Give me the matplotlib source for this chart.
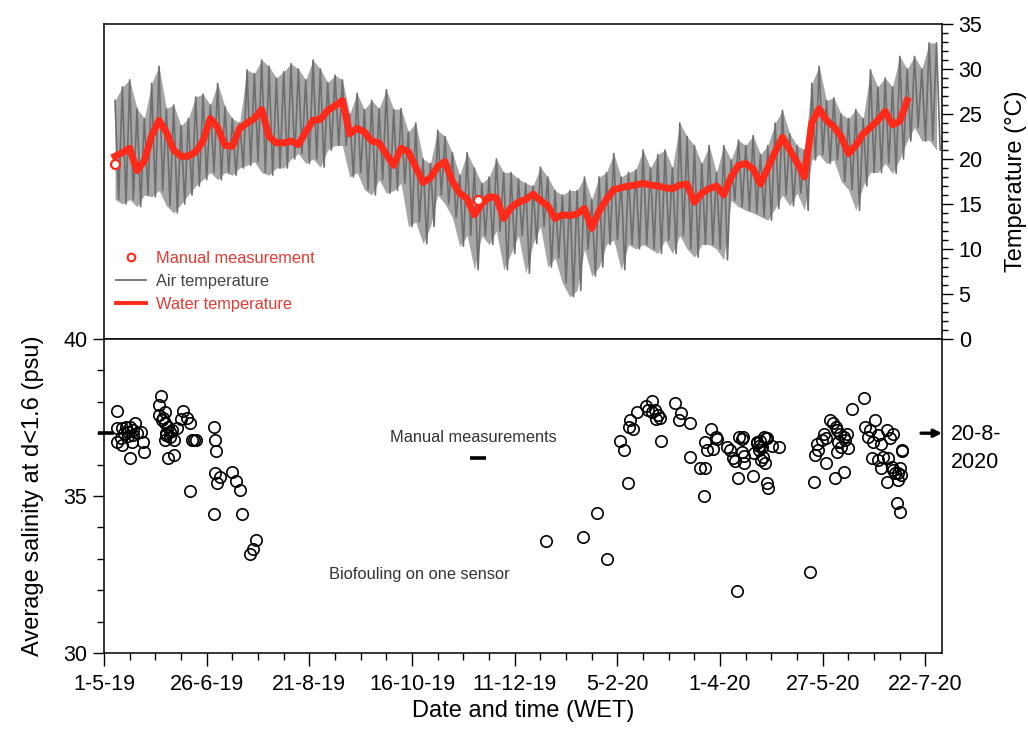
import numpy as np
import pandas as pd
import matplotlib
matplotlib.use('Agg')
import matplotlib.pyplot as plt
import matplotlib.dates as mdates
from matplotlib.ticker import MultipleLocator, FixedLocator
from matplotlib.lines import Line2D

plt.rcParams['font.family'] = ['Liberation Sans', 'DejaVu Sans']

# ---------------- data ----------------
START = pd.Timestamp('2019-05-01')
X_END = pd.Timestamp('2020-07-31')

# Air temperature: envelope read every 4 days (daily max / min)
air_first_day = 6
air_step_days = 4
air_hi = [26.5, 28.0, 28.8, 25.6, 24.5, 28.4, 30.3, 25.6, 26.0, 23.7,
          24.5, 26.9, 27.2, 26.0, 28.4, 25.8, 24.5, 24.0, 29.9, 29.5,
          31.0, 30.3, 29.0, 29.7, 30.6, 30.0, 28.8, 31.0, 30.0, 28.5,
          29.3, 28.8, 25.0, 27.3, 25.5, 26.5, 25.6, 27.7, 25.5, 25.6,
          23.0, 24.0, 20.0, 19.5, 23.2, 22.5, 20.7, 18.2, 20.7, 19.0,
          17.3, 18.0, 20.0, 18.5, 18.5, 17.8, 17.3, 17.0, 19.1, 18.0,
          16.5, 16.0, 16.5, 16.5, 18.0, 15.5, 18.0, 18.5, 20.6, 18.0,
          18.5, 18.8, 21.0, 19.0, 20.5, 21.0, 19.0, 24.0, 22.5, 21.5,
          19.5, 21.5, 18.5, 21.5, 19.9, 22.1, 21.5, 22.6, 20.5, 21.5,
          24.0, 25.4, 22.8, 21.5, 21.0, 28.4, 30.3, 26.5, 26.8, 25.0,
          24.5, 25.5, 24.5, 29.9, 28.0, 29.0, 28.0, 31.4, 30.0, 31.4,
          30.0, 32.9, 32.9]
air_lo = [15.5, 15.0, 15.5, 14.7, 16.0, 15.8, 16.5, 14.8, 14.0, 15.0,
          16.0, 17.0, 17.7, 18.5, 17.7, 18.5, 18.2, 19.0, 19.3, 19.7,
          18.5, 18.2, 19.0, 19.0, 20.0, 20.6, 19.5, 20.0, 19.1, 21.0,
          21.5, 21.5, 18.0, 18.5, 16.6, 16.0, 17.7, 16.2, 16.5, 17.3,
          12.5, 13.0, 10.6, 12.5, 16.0, 15.0, 13.5, 10.3, 11.5, 7.7,
          11.5, 10.5, 12.0, 7.7, 9.5, 11.5, 7.3, 10.6, 12.5, 8.0,
          9.0, 6.2, 4.7, 5.4, 10.0, 7.0, 8.0, 10.5, 11.0, 7.7,
          10.5, 10.0, 10.5, 10.0, 9.5, 11.0, 9.5, 11.5, 10.0, 9.1,
          10.5, 10.5, 10.0, 8.8, 15.4, 14.7, 14.3, 14.0, 13.6, 13.2,
          14.5, 16.0, 14.8, 16.2, 14.3, 19.9, 20.5, 19.5, 19.9, 17.5,
          16.6, 14.3, 17.0, 18.5, 18.5, 19.5, 18.4, 20.0, 22.0, 23.5,
          22.0, 22.1, 21.0]

# Water temperature read every 4 days
water_first_day = 6
water_step_days = 4
water_temp = [20.3, 20.7, 21.2, 18.7, 19.8, 22.6, 24.3, 23.0, 21.0, 20.3,
              20.3, 20.8, 22.0, 24.5, 23.5, 21.5, 21.4, 23.4, 24.0, 24.5,
              25.5, 22.5, 21.8, 21.8, 22.0, 21.6, 23.0, 24.3, 24.4, 25.4,
              25.9, 26.5, 22.8, 23.4, 23.0, 22.0, 21.8, 20.5, 19.3, 21.2,
              20.8, 19.1, 17.4, 17.9, 19.2, 19.7, 17.5, 16.2, 15.6, 13.8,
              15.0, 15.8, 15.7, 13.4, 14.6, 15.2, 15.5, 16.1, 15.4, 14.8,
              13.4, 13.8, 13.7, 13.9, 14.5, 12.3, 14.2, 15.5, 16.6, 16.8,
              17.0, 17.1, 17.3, 17.1, 17.0, 16.8, 16.7, 17.1, 17.2, 15.2,
              16.2, 16.7, 17.0, 16.0, 18.0, 19.3, 19.5, 18.9, 17.2, 19.0,
              20.8, 22.4, 21.0, 19.6, 18.0, 24.0, 25.6, 24.3, 23.6, 22.5,
              20.6, 21.5, 22.8, 23.5, 24.3, 25.3, 23.8, 24.2, 26.5]

# Manual measurements
manual_temp_day = [6, 204]
manual_temp = [19.4, 15.4]
manual_sal_day = [1, 204]
manual_sal = [37.0, 36.2]

# Average salinity (days since 1-5-19, psu)
sal_day = [7, 7, 10, 12, 14, 17, 16, 13, 20, 7, 10, 15, 21, 22, 14, 11, 13, 16, 18, 9,
           31, 30, 33, 30, 31.5, 33, 35, 37, 34, 36, 33, 38, 40, 35, 38, 32, 36, 34,
           43, 42, 45, 47, 47, 48, 49, 50,
           60, 60.5, 61, 60.5, 63, 61.5, 60, 70, 72, 74, 75, 83, 81.5, 79.5,
           241, 261, 269, 274.3, 286, 281.6, 283.4, 286.5, 288.3, 287, 290.7, 295.6,
           298.7, 296.5, 299, 300.5, 302, 301, 303, 303.8, 311.5, 314.8, 313.8, 319.8, 319.8,
           324.8, 327.9, 327, 331, 327.5, 329, 332, 333.9, 334.1, 340, 341.5, 343, 344.3,
           346, 345.4, 346.5, 348, 349, 348.4, 348, 349, 354, 354.4, 356.2, 358, 360.8,
           361.7, 359.6, 360.3, 361.7, 362, 364.5, 368.2, 357.2, 356, 357, 359, 360, 358.5,
           385.2, 387.2, 388, 389.5, 389, 391.5, 392.5, 393.5, 394, 396, 397.5, 399, 400,
           401.5, 403.5, 405, 400.5, 402, 399.5, 406, 404, 398.4, 403.6, 407.7, 414.6,
           415, 417.7, 420.4, 416.8, 419.5, 422.2, 424, 426.8, 428.6, 430.4, 418.6, 422.2,
           425, 424, 427.7, 429.5, 431.3, 433.2, 434, 435, 435.3, 434.6, 426.8, 433.2,
           430.4, 432.2, 434]
sal_psu = [37.72, 37.18, 37.18, 37.20, 37.21, 37.32, 37.10, 37.05, 37.05, 36.73, 36.62,
           36.73, 36.73, 36.41, 36.20, 37.00, 36.90, 36.94, 37.00, 36.85,
           38.18, 37.90, 37.69, 37.58, 37.42, 37.31, 37.21, 37.10, 37.00, 36.89, 36.78,
           36.78, 37.16, 36.20, 36.30, 37.50, 37.05, 36.95,
           37.72, 37.44, 37.48, 37.31, 35.16, 36.78, 36.78, 36.78,
           37.20, 36.77, 36.42, 35.73, 35.62, 35.41, 34.44, 35.78, 35.49, 35.20, 34.44,
           33.61, 33.30, 33.14,
           33.58, 33.70, 34.47, 32.98, 35.40, 36.76, 36.46, 37.21, 37.12, 37.42, 37.68,
           37.86, 38.03, 37.74, 37.68, 37.74, 37.58, 37.44, 37.47, 36.76, 37.95, 37.63,
           37.42, 37.34, 36.24,
           35.88, 35.88, 35.00, 37.12, 36.73, 36.46, 36.51, 36.89, 36.83, 36.57, 36.48,
           36.21, 36.10, 35.57, 31.98, 36.89, 36.83, 36.26, 36.89, 36.41, 36.04, 35.65,
           36.37, 36.69, 36.75, 36.86, 36.86, 36.23, 36.05, 35.41, 35.27, 36.59, 36.55,
           36.59, 36.73, 36.46, 36.57, 36.89, 36.14,
           32.59, 35.46, 36.30, 36.46, 36.67, 36.78, 36.99, 36.84, 36.04, 37.42, 37.31,
           37.21, 37.10, 36.99, 36.89, 36.99, 36.73, 36.57, 36.41, 36.52, 36.78, 35.57,
           35.78, 37.76, 38.11,
           37.21, 37.10, 37.42, 36.89, 36.73, 36.94, 36.67, 37.10, 36.84, 36.99, 36.20,
           36.14, 36.25, 35.88, 36.20, 35.93, 35.72, 35.72, 35.88, 36.46, 36.44, 35.67,
           35.46, 35.51, 35.83, 34.77, 34.48]

tick_step_days = 56
tick_labels = ['1-5-19', '26-6-19', '21-8-19', '16-10-19', '11-12-19',
               '5-2-20', '1-4-20', '27-5-20', '22-7-20']

legend_labels = ['Manual measurement', 'Air temperature', 'Water temperature']
arrow_date_text = '20-8-\n2020'

# ---------------- helpers ----------------
def dn(days):
    return mdates.date2num(START + pd.to_timedelta(np.asarray(days, dtype=float), unit='D'))

RED = '#ff2a1a'
TXT_RED = '#e23c35'
GRAY = '#6e6e6e'

fig = plt.figure(figsize=(10.28, 7.35), dpi=100)
L, R = 104 / 1028, 942 / 1028
ax1 = fig.add_axes([L, 1 - 339 / 735, R - L, (339 - 24) / 735])
ax2 = fig.add_axes([L, 1 - 653 / 735, R - L, (653 - 339) / 735], sharex=ax1)

# ---- top: temperatures ----
k = np.arange(len(air_hi))
air_days_hi = air_first_day + air_step_days * k
air_days_lo = air_days_hi + air_step_days / 2
ax_x = np.column_stack([dn(air_days_hi), dn(air_days_lo)]).ravel()
ax_y = np.column_stack([air_hi, air_lo]).ravel()
# dense core of the daily cycle, then the individual swings
ax1.fill_between(dn(air_days_hi), air_lo, air_hi, color='#888888', lw=0,
                 alpha=0.75, zorder=1)
ax1.plot(ax_x, ax_y, color=GRAY, lw=1.2, zorder=2)

w_days = water_first_day + water_step_days * np.arange(len(water_temp))
ax1.plot(dn(w_days), water_temp, color=RED, lw=5.0, solid_joinstyle='round', zorder=3)

ax1.plot(dn(manual_temp_day), manual_temp, ls='none', marker='o', ms=6.5,
         mfc='white', mec=RED, mew=1.6, zorder=4)

ax1.set_ylim(0, 35)
ax1.yaxis.tick_right()
ax1.yaxis.set_label_position('right')
ax1.yaxis.set_major_locator(MultipleLocator(5))
ax1.yaxis.set_minor_locator(MultipleLocator(1))
ax1.tick_params(axis='y', which='major', direction='out', length=8, width=1,
                labelsize=15.5, pad=4)
ax1.tick_params(axis='y', which='minor', direction='out', length=4, width=1)
ax1.tick_params(axis='x', which='both', bottom=False, top=False, labelbottom=False)
ax1.set_ylabel('Temperature (°C)', fontsize=17, labelpad=16)

handles = [Line2D([], [], ls='none', marker='o', ms=5.5, mfc='white', mec=RED, mew=1.5),
           Line2D([], [], color=GRAY, lw=1.3),
           Line2D([], [], color=RED, lw=2.8)]
leg = ax1.legend(handles, legend_labels, loc='lower left', bbox_to_anchor=(0.005, 0.06),
                 frameon=False, fontsize=11.8, handlelength=1.8, handletextpad=0.6,
                 labelspacing=0.5, borderpad=0.3, borderaxespad=0.2,
                 labelcolor=[TXT_RED, '#444444', TXT_RED])

# ---- bottom: salinity ----
ax2.plot(dn(sal_day), sal_psu, ls='none', marker='o', ms=8.2, mfc='none',
         mec='black', mew=1.2, zorder=3)
ax2.plot(dn(manual_sal_day), manual_sal, ls='none', marker='_', ms=12, mew=2.6,
         color='black', clip_on=False, zorder=4)

ax2.set_ylim(30, 40)
ax2.yaxis.set_major_locator(MultipleLocator(5))
ax2.yaxis.set_minor_locator(MultipleLocator(1))
ax2.tick_params(axis='y', which='major', direction='out', length=8, width=1,
                labelsize=15.5, pad=4, right=False)
ax2.tick_params(axis='y', which='minor', direction='out', length=5, width=1, right=False)
ax2.set_ylabel('Average salinity at d<1.6 (psu)', fontsize=17, labelpad=14)

major_pos = dn(tick_step_days * np.arange(len(tick_labels)))
minor_pos = dn(np.arange(0, 470, tick_step_days / 4))
ax2.xaxis.set_major_locator(FixedLocator(major_pos))
ax2.xaxis.set_minor_locator(FixedLocator(minor_pos))
ax2.set_xticklabels(tick_labels)
ax2.tick_params(axis='x', which='major', direction='out', length=9, width=1,
                labelsize=15.5, pad=6)
ax2.tick_params(axis='x', which='minor', direction='out', length=5, width=1)
ax2.set_xlabel('Date and time (WET)', fontsize=17, labelpad=4)
ax2.set_xlim(mdates.date2num(START), mdates.date2num(X_END))

ax2.text(dn(156), 36.85, 'Manual measurements', fontsize=11.8, color='#333333',
         ha='left', va='center')
ax2.text(dn(122.5), 32.5, 'Biofouling on one sensor', fontsize=11.8, color='#333333',
         ha='left', va='center')

ax2.annotate('', xy=(1.0, 37.0), xycoords=('axes fraction', 'data'),
             xytext=(0.975, 37.0), textcoords=('axes fraction', 'data'),
             arrowprops=dict(arrowstyle='-|>', color='black', lw=2.4, mutation_scale=11,
                             shrinkA=0, shrinkB=0),
             annotation_clip=False)
ax2.text(1.01, 36.52, arrow_date_text, transform=ax2.get_yaxis_transform(),
         fontsize=15.5, ha='left', va='center', linespacing=1.45)

for ax in (ax1, ax2):
    for s in ax.spines.values():
        s.set_linewidth(1.1)

fig.savefig('out.png', dpi=100)
